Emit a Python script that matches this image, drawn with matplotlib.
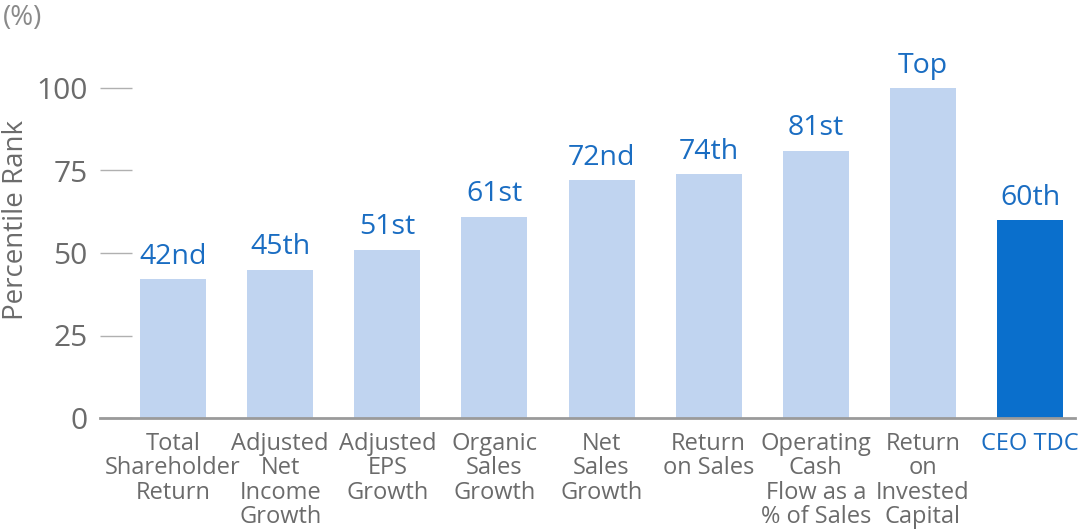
import matplotlib
matplotlib.use("Agg")
import matplotlib.pyplot as plt

plt.rcParams["font.family"] = ["Open Sans", "DejaVu Sans"]

categories = [
    "Total\nShareholder\nReturn",
    "Adjusted\nNet\nIncome\nGrowth",
    "Adjusted\nEPS\nGrowth",
    "Organic\nSales\nGrowth",
    "Net\nSales\nGrowth",
    "Return\non Sales",
    "Operating\nCash\nFlow as a\n% of Sales",
    "Return\non\nInvested\nCapital",
    "CEO TDC",
]
percentiles = [42, 45, 51, 61, 72, 74, 81, 100, 60]
rank_labels = ["42nd", "45th", "51st", "61st", "72nd", "74th", "81st", "Top", "60th"]
yticks = [0, 25, 50, 75, 100]

light = "#c0d4f0"
dark = "#0a6fcc"
label_blue = "#1a6dc2"
gray = "#6b6b6b"

fig = plt.figure(figsize=(10.87, 5.32), dpi=100)
ax = fig.add_axes([100 / 1087, 114 / 532, 975 / 1087, 346.5 / 532])

x = list(range(len(categories)))
colors = [light] * (len(categories) - 1) + [dark]
ax.bar(x, percentiles, width=0.616, color=colors, zorder=2)

for xi, v, lab in zip(x, percentiles, rank_labels):
    ax.text(xi, v + 2.5, lab, ha="center", va="bottom", fontsize=20.5,
            color=label_blue)

ax.set_xlim(-0.682, 8.42)
ax.set_ylim(0, 105)

ax.set_xticks(x)
ax.set_xticklabels(categories, fontsize=17, color=gray, linespacing=1.02,
                   va="top")
ax.get_xticklabels()[-1].set_color(label_blue)
ax.tick_params(axis="x", length=0, pad=10)

ax.set_yticks(yticks)
ax.set_yticklabels([str(t) for t in yticks], fontsize=21.5, color=gray)
ax.tick_params(axis="y", direction="in", length=23, width=1,
               color="#b0b0b0", pad=9)

for s in ["top", "right", "left"]:
    ax.spines[s].set_visible(False)
ax.spines["bottom"].set_color("#9a9a9a")
ax.spines["bottom"].set_linewidth(2)
ax.spines["bottom"].set_zorder(3)

fig.text(16 / 1087, 1 - 220 / 532, "Percentile Rank", rotation=90,
         ha="center", va="center", fontsize=20, color=gray)
fig.text(3 / 1087, 1 - 18 / 532, "(%)", ha="left", va="center",
         fontsize=20, color="#8a8a8a")

fig.savefig("out.png", dpi=100)
